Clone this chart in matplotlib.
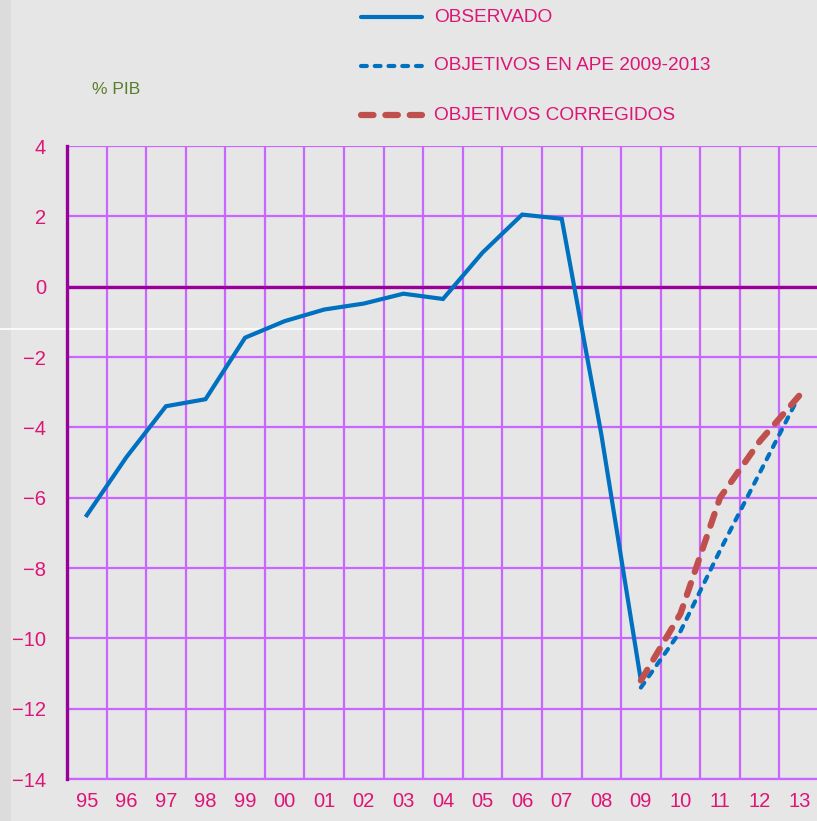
import numpy as np
import matplotlib
matplotlib.use('Agg')
import matplotlib.pyplot as plt
from matplotlib.lines import Line2D
from matplotlib.patches import Rectangle

plt.rcParams['font.family'] = ['Liberation Sans', 'DejaVu Sans']

# data (% PIB)
years = ['95', '96', '97', '98', '99', '00', '01', '02', '03', '04',
         '05', '06', '07', '08', '09', '10', '11', '12', '13']
observado = [-6.5, -4.85, -3.4, -3.2, -1.45, -0.98, -0.65, -0.48, -0.2, -0.35,
             0.97, 2.05, 1.93, -4.2, -11.2]
ape_years = ['09', '10', '11', '12', '13']
ape_2009_2013 = [-11.4, -9.8, -7.5, -5.3, -3.1]
corregidos = [-11.2, -9.3, -6.0, -4.4, -3.1]

labels = ['OBSERVADO', 'OBJETIVOS EN APE 2009-2013', 'OBJETIVOS CORREGIDOS']

text_col = '#dd1577'
grid_col = '#c966ff'
dark_purple = '#990099'
blue = '#0070c0'
red = '#c0504d'
bg = '#e6e6e6'

W, H = 817, 821
fig = plt.figure(figsize=(W / 100, H / 100), dpi=100, facecolor=bg)

# background artefacts: darker strip at left, thin white line
fig.add_artist(Rectangle((0, 0), 11 / W, 1, transform=fig.transFigure,
                         facecolor='#dcdcdc', edgecolor='none', zorder=-2))
fig.add_artist(Line2D([0, 1], [1 - 329 / H] * 2, transform=fig.transFigure,
                      color='white', lw=1.2, zorder=-1))

ax = fig.add_axes([67 / W, 1 - 779 / H, (819 - 67) / W, (779 - 146) / H])
ax.set_facecolor('none')

x = np.arange(len(years))
idx = {y: i for i, y in enumerate(years)}
x_obs = x[:len(observado)]
x_ape = [idx[y] for y in ape_years]

blue_dash = dict(color=blue, lw=3, dashes=(1.4, 1.9), dash_capstyle='round')
red_dash = dict(color=red, lw=4.5, dashes=(2.0, 1.9), dash_capstyle='round')

ax.plot(x_obs, observado, color=blue, lw=3, solid_joinstyle='miter', zorder=4)
ax.plot(x_ape, ape_2009_2013, zorder=4, **blue_dash)
ax.plot(x_ape, corregidos, zorder=5, **red_dash)

ax.set_xlim(-0.5, len(years) - 0.5)
ax.set_ylim(-14, 4)
ax.set_yticks(np.arange(-14, 5, 2))
ax.set_xticks(x)
ax.set_xticklabels(years)
ax.set_xticks(np.arange(-0.5, len(years), 1), minor=True)

ax.grid(which='major', axis='y', color=grid_col, lw=1.6, zorder=1)
ax.grid(which='minor', axis='x', color=grid_col, lw=1.6, zorder=1)
ax.set_axisbelow(True)
ax.axhline(0, color=dark_purple, lw=2.4, zorder=3)

ax.tick_params(axis='both', which='both', length=0)
ax.tick_params(axis='y', labelsize=14.5, labelcolor=text_col, pad=15)
ax.tick_params(axis='x', labelsize=14.5, labelcolor=text_col, pad=9)

for s in ['top', 'right']:
    ax.spines[s].set_visible(False)
ax.spines['left'].set_color(dark_purple)
ax.spines['left'].set_linewidth(2.4)
ax.spines['left'].set_zorder(6)
ax.spines['bottom'].set_color(grid_col)
ax.spines['bottom'].set_linewidth(1.6)

# legend drawn by hand at the top
styles = [dict(color=blue, lw=3, solid_capstyle='round'), blue_dash, red_dash]
rows_y = [17, 66, 115]
for lab, st, ry in zip(labels, styles, rows_y):
    yy = 1 - ry / H
    fig.add_artist(Line2D([361 / W, 422 / W], [yy, yy], transform=fig.transFigure, **st))
    fig.text(434 / W, yy, lab, color=text_col, fontsize=13.7, va='center', ha='left')

fig.text(92 / W, 1 - 89 / H, '% PIB', color='#5a7d2c', fontsize=12.5, va='center', ha='left')

fig.savefig('out.png', dpi=100, facecolor=bg)
